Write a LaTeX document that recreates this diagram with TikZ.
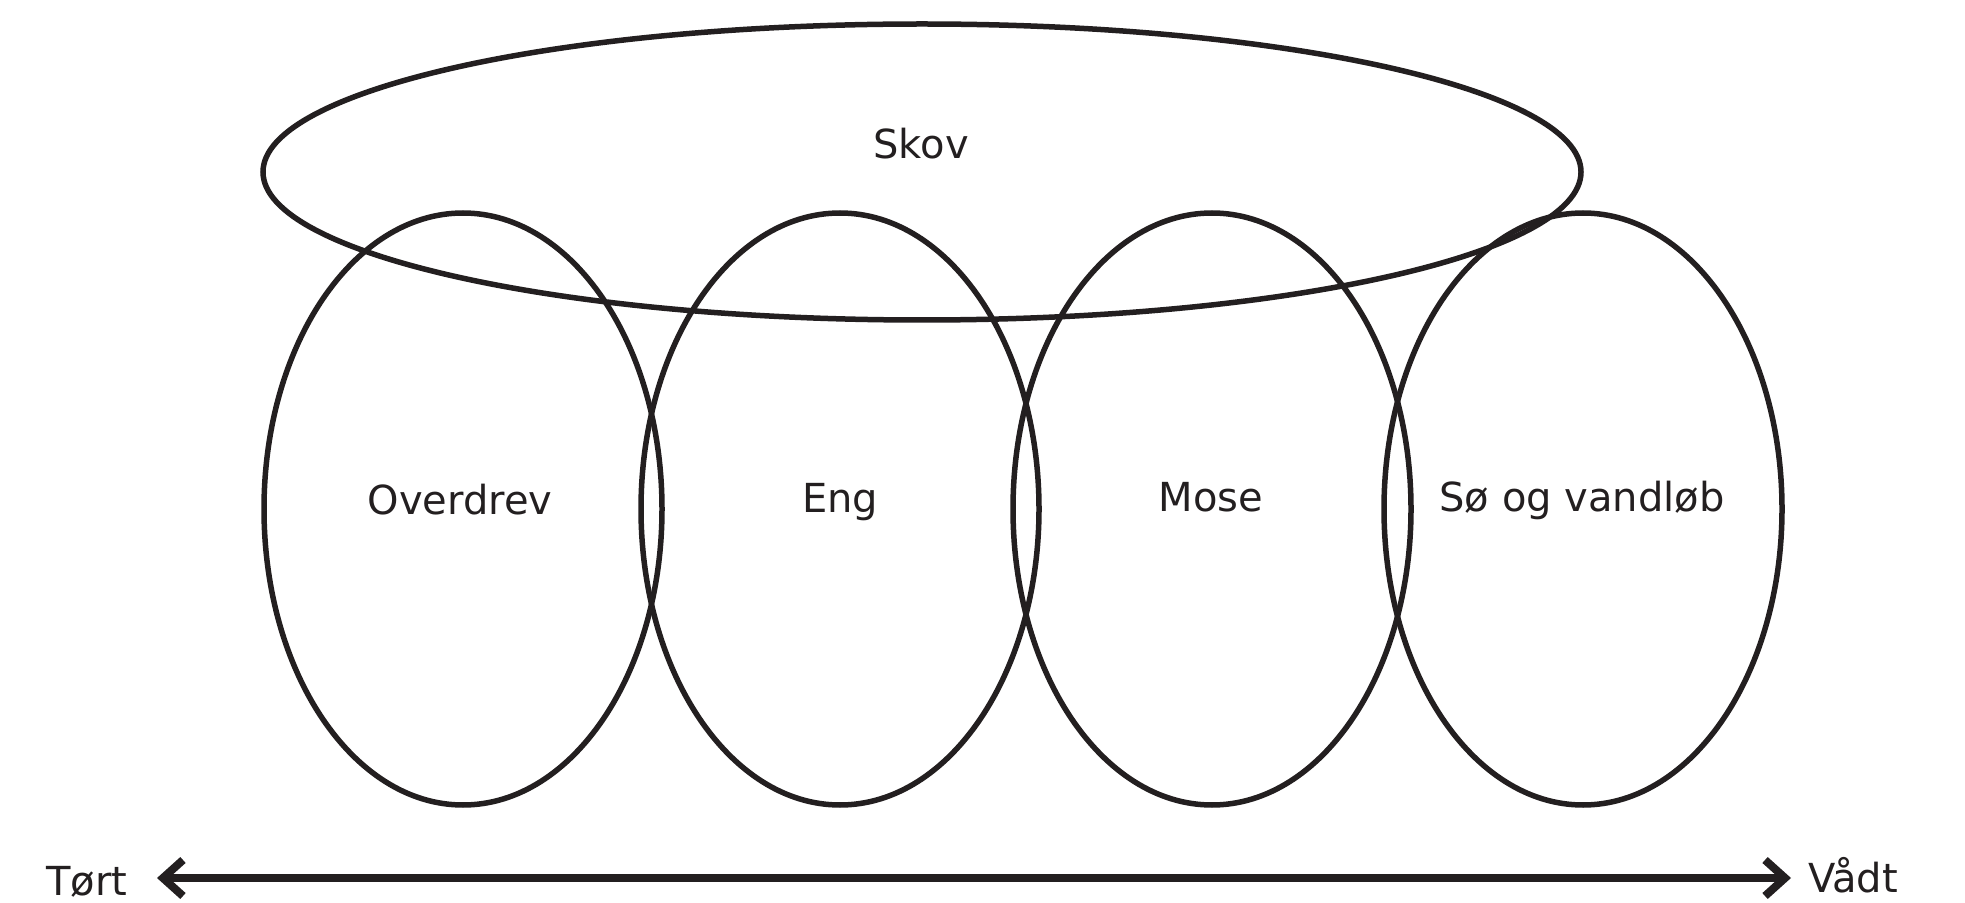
\documentclass[tikz,border=0pt]{standalone}
\usepackage{fontspec}
\setmainfont{DejaVu Sans}
\usetikzlibrary{shapes.geometric}
\usetikzlibrary{arrows.meta}
\definecolor{ink}{HTML}{231F20}

\tikzset{
    habitat/.style={draw=ink, ellipse, line width=2.75pt, inner sep=0pt, minimum width=199pt, minimum height=296pt},
    tag/.style={text=ink, font=\fontsize{20}{24}\selectfont, inner sep=0pt},
    barb/.tip={Straight Barb[length=10pt, width=18pt]}
}

\begin{document}
\begin{tikzpicture}[x=0.5pt, y=-0.5pt]
\useasboundingbox (0, 0) rectangle (1965, 903);
\node[habitat, minimum width=659pt, minimum height=148pt] (skov) at (922, 172) {};
\node[habitat] (overdrev) at (463, 509) {};
\node[habitat] (eng) at (840, 509) {};
\node[habitat] (mose) at (1212, 509) {};
\node[habitat] (soe) at (1583, 509) {};
\draw (921, 144) node[tag] (skovtxt) {Skov}
    (460, 500) node[tag] (overdrevtxt) {Overdrev}
    (840, 502) node[tag] (engtxt) {Eng}
    (1211, 497) node[tag] (mosetxt) {Mose}
    (1582, 500) node[tag] (soetxt) {Sø og vandløb};
\node[tag] (tort) at (87, 882) {Tørt};
\node[tag] (vadt) at (1853, 875) {Vådt};
\coordinate (dryend) at (157, 878);
\coordinate (wetend) at (1791, 878);
\draw[ink, line width=4pt, barb-barb] (dryend) -- (wetend);
\end{tikzpicture}
\end{document}
